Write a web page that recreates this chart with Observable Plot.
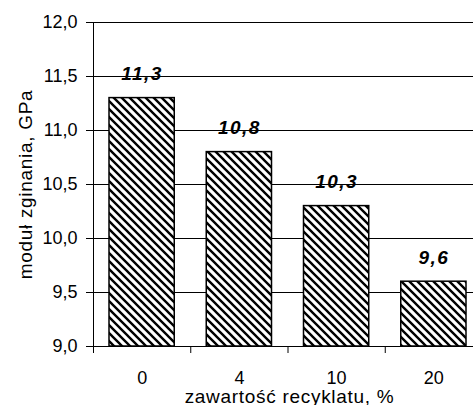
<!DOCTYPE html>
<html>
<head>
<meta charset="utf-8">
<script src="https://cdn.jsdelivr.net/npm/d3@7"></script>
<script src="https://cdn.jsdelivr.net/npm/@observablehq/plot@0.6"></script>
<style>
  html, body { margin: 0; padding: 0; background: #fff; }
  #chart svg { display: block; }
  .wide { letter-spacing: 0.7px; }
  .wider { letter-spacing: 1.5px; }
</style>
</head>
<body>
<div id="chart"></div>
<script>
// Flexural modulus vs. recyclate content
const categories = ["0", "4", "10", "20"];
const modulus = [11.3, 10.8, 10.3, 9.6];
const yTicks = [9.0, 9.5, 10.0, 10.5, 11.0, 11.5, 12.0];
const xTitle = "zawartość recyklatu, %";
const yTitle = "moduł zginania, GPa";

const fmt = v => v.toFixed(1).replace(".", ",");
const rows = categories.map((c, i) => ({cat: c, idx: i, val: modulus[i]}));
const yMin = yTicks[0];
const yMax = yTicks[yTicks.length - 1];
const font = "'Liberation Sans', Arial, Helvetica, sans-serif";

// Diagonal hatch fill used by the bars
const hatch = () => {
  const defs = d3.create("svg:defs");
  const p = defs.append("pattern")
    .attr("id", "hatch")
    .attr("patternUnits", "userSpaceOnUse")
    .attr("width", 8)
    .attr("height", 8);
  p.append("rect").attr("width", 8).attr("height", 8).attr("fill", "#fff");
  p.append("path")
    .attr("d", "M-2,-2L10,10M-2,6L2,10M6,-2L10,2")
    .attr("stroke", "#000")
    .attr("stroke-width", 2.4);
  return defs.node();
};

const chart = Plot.plot({
  width: 473,
  height: 405,
  marginTop: 22,
  marginBottom: 59,
  marginLeft: 93,
  marginRight: 0,
  style: {fontFamily: font, fontSize: "18px", color: "#000", background: "#fff", overflow: "visible"},
  x: {type: "linear", domain: [0, categories.length], range: [93, 482], axis: null},
  y: {domain: [yMin, yMax], axis: null},
  marks: [
    hatch,
    // gridlines with short ticks left of the axis
    Plot.ruleY(yTicks, {y: d => d, stroke: "#000", strokeWidth: 1, insetLeft: -7}),
    Plot.rectY(rows, {
      x1: "idx", x2: d => d.idx + 1, y1: yMin, y2: "val",
      insetLeft: 16, insetRight: 16,
      fill: "url(#hatch)", stroke: "#000", strokeWidth: 1.5
    }),
    // vertical axis line and category separators
    Plot.ruleX([0], {x: d => d, y1: yMax, y2: yMin, insetBottom: -7, stroke: "#000"}),
    Plot.ruleX(d3.range(1, categories.length), {x: d => d, y1: yMin, y2: yMin, insetBottom: -7, stroke: "#000"}),
    // y tick labels
    Plot.text(yTicks, {y: d => d, frameAnchor: "left", dx: -16, textAnchor: "end", text: d => fmt(d)}),
    // x category labels
    Plot.text(rows, {x: d => d.idx + 0.5, frameAnchor: "bottom", lineAnchor: "top", dy: 25, text: "cat"}),
    // value labels above bars
    Plot.text(rows, {
      x: d => d.idx + 0.5, y: "val", lineAnchor: "bottom", dy: -18,
      text: d => fmt(d.val), fontWeight: "bold", fontStyle: "italic", fontSize: 19
    }),
    // axis titles
    Plot.text([xTitle], {frameAnchor: "bottom", lineAnchor: "bottom", dy: 56, dx: 6, fontSize: 19}),
    Plot.text([yTitle], {frameAnchor: "left", textAnchor: "middle", rotate: -90, dx: -68, fontSize: 19})
  ]
});

// spread the lettering of the value labels and axis titles
const textGroups = chart.querySelectorAll('g[aria-label="text"]');
textGroups[2].classList.add("wider");
textGroups[3].classList.add("wide");
textGroups[4].classList.add("wide");

document.getElementById("chart").append(chart);
</script>
</body>
</html>
